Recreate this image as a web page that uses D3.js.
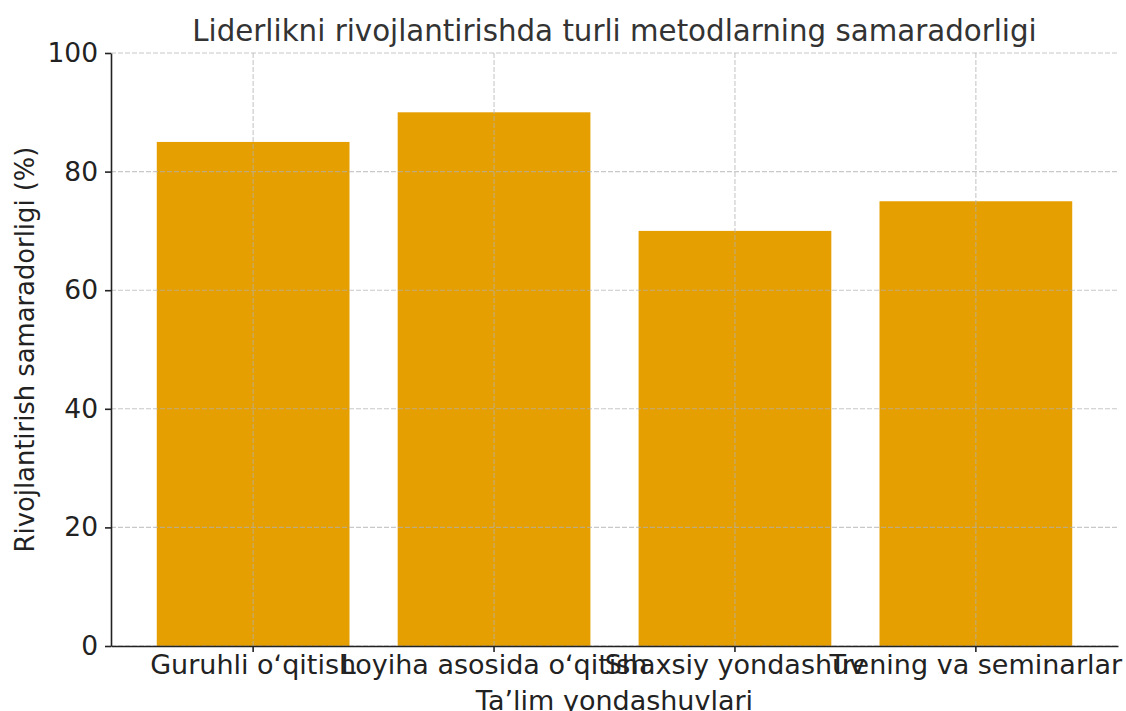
<!DOCTYPE html>
<html>
<head>
<meta charset="utf-8">
<script src="https://cdn.jsdelivr.net/npm/d3@7"></script>
<style>
  body { margin: 0; background: #fff; }
  text { font-family: "DejaVu Sans", sans-serif; }
</style>
</head>
<body>
<div id="chart"></div>
<script>
// chart data
var categories = ['Guruhli oʻqitish', 'Loyiha asosida oʻqitish', 'Shaxsiy yondashuv', 'Trening va seminarlar'];
var values = [85, 90, 70, 75];
var yTicks = [0, 20, 40, 60, 80, 100];

var titleText = 'Liderlikni rivojlantirishda turli metodlarning samaradorligi';
var xLabel = 'Ta’lim yondashuvlari';
var yLabel = 'Rivojlantirish samaradorligi (%)';

const width = 1126;
const height = 711;
const margin = { top: 53, right: 8, bottom: 65, left: 111 };
const innerW = width - margin.left - margin.right;
const innerH = height - margin.top - margin.bottom;

const svg = d3.select('#chart')
  .append('svg')
  .attr('width', width)
  .attr('height', height);

const g = svg.append('g')
  .attr('transform', 'translate(' + margin.left + ',' + margin.top + ')');

// band scale mimics matplotlib bar width 0.8 + 5% margins
const x = d3.scaleBand()
  .domain(categories)
  .range([0, innerW])
  .paddingInner(0.2)
  .paddingOuter(0.19);

const y = d3.scaleLinear()
  .domain([0, 100])
  .range([innerH, 0]);

// bars
g.selectAll('.bar')
  .data(values)
  .enter()
  .append('rect')
  .attr('class', 'bar')
  .attr('x', (d, i) => x(categories[i]))
  .attr('y', d => y(d))
  .attr('width', x.bandwidth())
  .attr('height', d => innerH - y(d))
  .attr('fill', '#E69F00');

// grid lines drawn on top of bars
const grid = g.append('g').attr('class', 'grid');
grid.selectAll('.hgrid')
  .data(yTicks)
  .enter()
  .append('line')
  .attr('x1', 0)
  .attr('x2', innerW)
  .attr('y1', d => y(d))
  .attr('y2', d => y(d));
grid.selectAll('.vgrid')
  .data(categories)
  .enter()
  .append('line')
  .attr('x1', d => x(d) + x.bandwidth() / 2)
  .attr('x2', d => x(d) + x.bandwidth() / 2)
  .attr('y1', 0)
  .attr('y2', innerH);
grid.selectAll('line')
  .attr('stroke', '#b0b0b0')
  .attr('stroke-opacity', 0.7)
  .attr('stroke-width', 1.1)
  .attr('stroke-dasharray', '5,2');

// axes
const xAxis = d3.axisBottom(x).tickSize(6).tickSizeOuter(0).tickPadding(6);
const yAxis = d3.axisLeft(y).tickValues(yTicks).tickSize(6).tickSizeOuter(0).tickPadding(7);

const xg = g.append('g')
  .attr('transform', 'translate(0,' + innerH + ')')
  .call(xAxis);
const yg = g.append('g').call(yAxis);

[xg, yg].forEach(function(a) {
  a.selectAll('path, line').attr('stroke', '#222').attr('stroke-width', 1.6);
  a.selectAll('text')
    .attr('fill', '#222')
    .style('font-size', '26.5px')
    .style('font-family', '"DejaVu Sans", sans-serif');
});
xg.selectAll('text').style('font-size', '27px').attr('dy', '0.6em');

// title
svg.append('text')
  .attr('x', margin.left + innerW / 2)
  .attr('y', 41)
  .attr('text-anchor', 'middle')
  .attr('fill', '#333')
  .style('font-size', '29.3px')
  .text(titleText);

// axis labels
svg.append('text')
  .attr('x', margin.left + innerW / 2)
  .attr('y', 710)
  .attr('text-anchor', 'middle')
  .attr('fill', '#222')
  .style('font-size', '27px')
  .text(xLabel);

svg.append('text')
  .attr('transform', 'translate(34,' + (margin.top + innerH / 2) + ') rotate(-90)')
  .attr('text-anchor', 'middle')
  .attr('fill', '#222')
  .style('font-size', '25.8px')
  .text(yLabel);
</script>
</body>
</html>
